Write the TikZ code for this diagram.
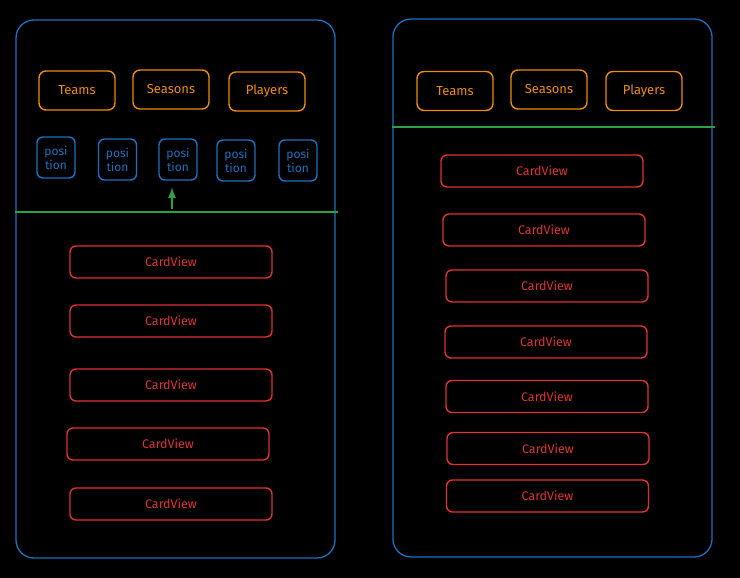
\documentclass[tikz,border=0pt]{standalone}
\usepackage{fontspec}
\setmainfont{Fira Sans}
\usetikzlibrary{arrows.meta}
\definecolor{xblue}{HTML}{1971C2}
\definecolor{xorange}{HTML}{F08C00}
\definecolor{xred}{HTML}{E03131}
\definecolor{xgreen}{HTML}{2F9E44}

\begin{document}
\begin{tikzpicture}[x=1pt,y=-1pt,>=Latex,font=\fontsize{13}{15}\selectfont,
 phone/.style={draw=xblue,line width=1.3pt,rounded corners=18pt,minimum width=319pt,minimum height=538pt,inner sep=0pt},
 tab/.style={draw=xorange,text=xorange,line width=1.4pt,rounded corners=7pt,minimum width=76pt,minimum height=39pt,inner sep=0pt},
 posbox/.style={draw=xblue,text=xblue,line width=1.4pt,rounded corners=6pt,minimum width=38pt,minimum height=41pt,inner sep=0pt,align=center,font=\fontsize{12}{14}\selectfont},
 card/.style={draw=xred,text=xred,line width=1.4pt,rounded corners=6pt,minimum width=202pt,minimum height=32pt,inner sep=0pt,font=\fontsize{12.5}{14}\selectfont},
 divider/.style={draw=xgreen,line width=2.8pt}]
 % background
 \useasboundingbox[fill=black] (0,0) rectangle (740,578);
 % left phone
 \node[phone] (lphone) at (175.5,289) {};
 \node[tab] (lteams) at (77,90.5) {Teams};
 \node[tab] (lseasons) at (171,89.5) {Seasons};
 \node[tab] (lplayers) at (267,91.5) {Players};
 \node[posbox] (p1) at (56,157.5) {posi\\tion};
 \node[posbox] (p2) at (117.5,159.5) {posi\\tion};
 \node[posbox] (p3) at (178,159.5) {posi\\tion};
 \node[posbox] (p4) at (236,160.5) {posi\\tion};
 \node[posbox] (p5) at (298,160.5) {posi\\tion};
 \draw[divider] (lphone.west |- 0,212) -- (338,212);
 \coordinate (lfoot) at (172,209);
 \draw[->,draw=xgreen,line width=1.8pt] (lfoot) -- (lfoot |- 0,187);
 \node[card] (lc1) at (171,262) {CardView};
 \node[card] (lc2) at (171,321) {CardView};
 \node[card] (lc3) at (171,385) {CardView};
 \node[card] (lc4) at (168,444) {CardView};
 \node[card] (lc5) at (171,504) {CardView};
 % right phone
 \node[phone] (rphone) at (552.5,288) {};
 \node[tab] (rteams) at (455,91) {Teams};
 \node[tab] (rseasons) at (549,89.5) {Seasons};
 \node[tab] (rplayers) at (644,91) {Players};
 \draw[divider] (rphone.west |- 0,127) -- (715,127);
 \node[card] (rc1) at (542,171) {CardView};
 \node[card] (rc2) at (544,230) {CardView};
 \node[card] (rc3) at (547,286) {CardView};
 \node[card] (rc4) at (546,342) {CardView};
 \node[card] (rc5) at (547,396.5) {CardView};
 \node[card] (rc6) at (548,448.5) {CardView};
 \node[card] (rc7) at (547.5,496) {CardView};
\end{tikzpicture}
\end{document}
